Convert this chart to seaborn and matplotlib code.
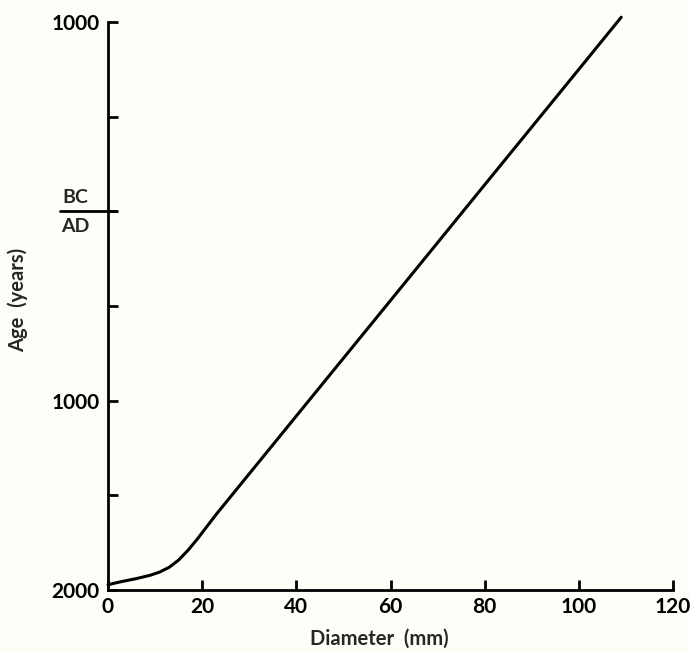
import matplotlib
matplotlib.use("Agg")
import matplotlib.pyplot as plt
import matplotlib.transforms as mtransforms
import seaborn as sns
import pandas as pd

# Data (diameter in mm, age in years before 2000 AD)
diameter_mm = [0, 3, 6, 9, 11, 13, 15, 17, 19, 21, 23, 40, 60, 80, 100, 109]
age_years = [28, 45, 60, 78, 95, 120, 158, 210, 270, 335, 400, 919, 1529, 2140, 2750, 3025]

x_ticks = [0, 20, 40, 60, 80, 100, 120]
x_tick_labels = ["0", "20", "40", "60", "80", "100", "120"]
y_ticks = [0, 500, 1000, 1500, 2000, 2500, 3000]
y_tick_labels = ["2000", "", "1000", "", "", "", "1000"]

df = pd.DataFrame({"Diameter": diameter_mm, "Age": age_years})

sns.set_style("ticks")
plt.rcParams["font.family"] = ["Lato", "DejaVu Sans"]

bg = "#fefdf8"
fig = plt.figure(figsize=(6.9, 6.52), dpi=100, facecolor=bg)
ax = fig.add_axes([0.1565, 0.0951, 0.8189, 0.8712])
ax.set_facecolor(bg)

sns.lineplot(data=df, x="Diameter", y="Age", ax=ax, color="black",
             linewidth=2.2, clip_on=False)

ax.set_xlim(0, 120)
ax.set_ylim(0, 3000)
ax.set_xticks(x_ticks)
ax.set_xticklabels(x_tick_labels)
ax.set_yticks(y_ticks)
ax.set_yticklabels(y_tick_labels)

for s in ["top", "right"]:
    ax.spines[s].set_visible(False)
for s in ["left", "bottom"]:
    ax.spines[s].set_linewidth(2.0)
    ax.spines[s].set_color("black")

ax.tick_params(axis="both", direction="in", length=7, width=2.0,
               labelsize=15, colors="black")
ax.tick_params(axis="x", pad=5)
ax.tick_params(axis="y", pad=6)
for lbl in ax.get_xticklabels() + ax.get_yticklabels():
    lbl.set_fontweight("bold")

# BC / AD boundary marker
trans = mtransforms.blended_transform_factory(ax.transAxes, ax.transData)
ax.plot([-0.085, 0.014], [2000, 2000], color="black", linewidth=2.0,
        transform=trans, clip_on=False)
ax.text(-0.057, 2030, "BC", transform=trans, ha="center", va="bottom",
        fontsize=14, fontweight="bold")
ax.text(-0.057, 1965, "AD", transform=trans, ha="center", va="top",
        fontsize=14, fontweight="bold")

ax.set_xlabel("Diameter  (mm)", fontsize=14.5, fontweight="bold",
              va="center", ha="center")
ax.set_ylabel("Age  (years)", fontsize=14.5, fontweight="bold",
              va="center", ha="center")
ax.xaxis.set_label_coords(0.48, -0.085)
ax.yaxis.set_label_coords(-0.16, 0.51)

fig.savefig("out.png", dpi=100, facecolor=bg)
